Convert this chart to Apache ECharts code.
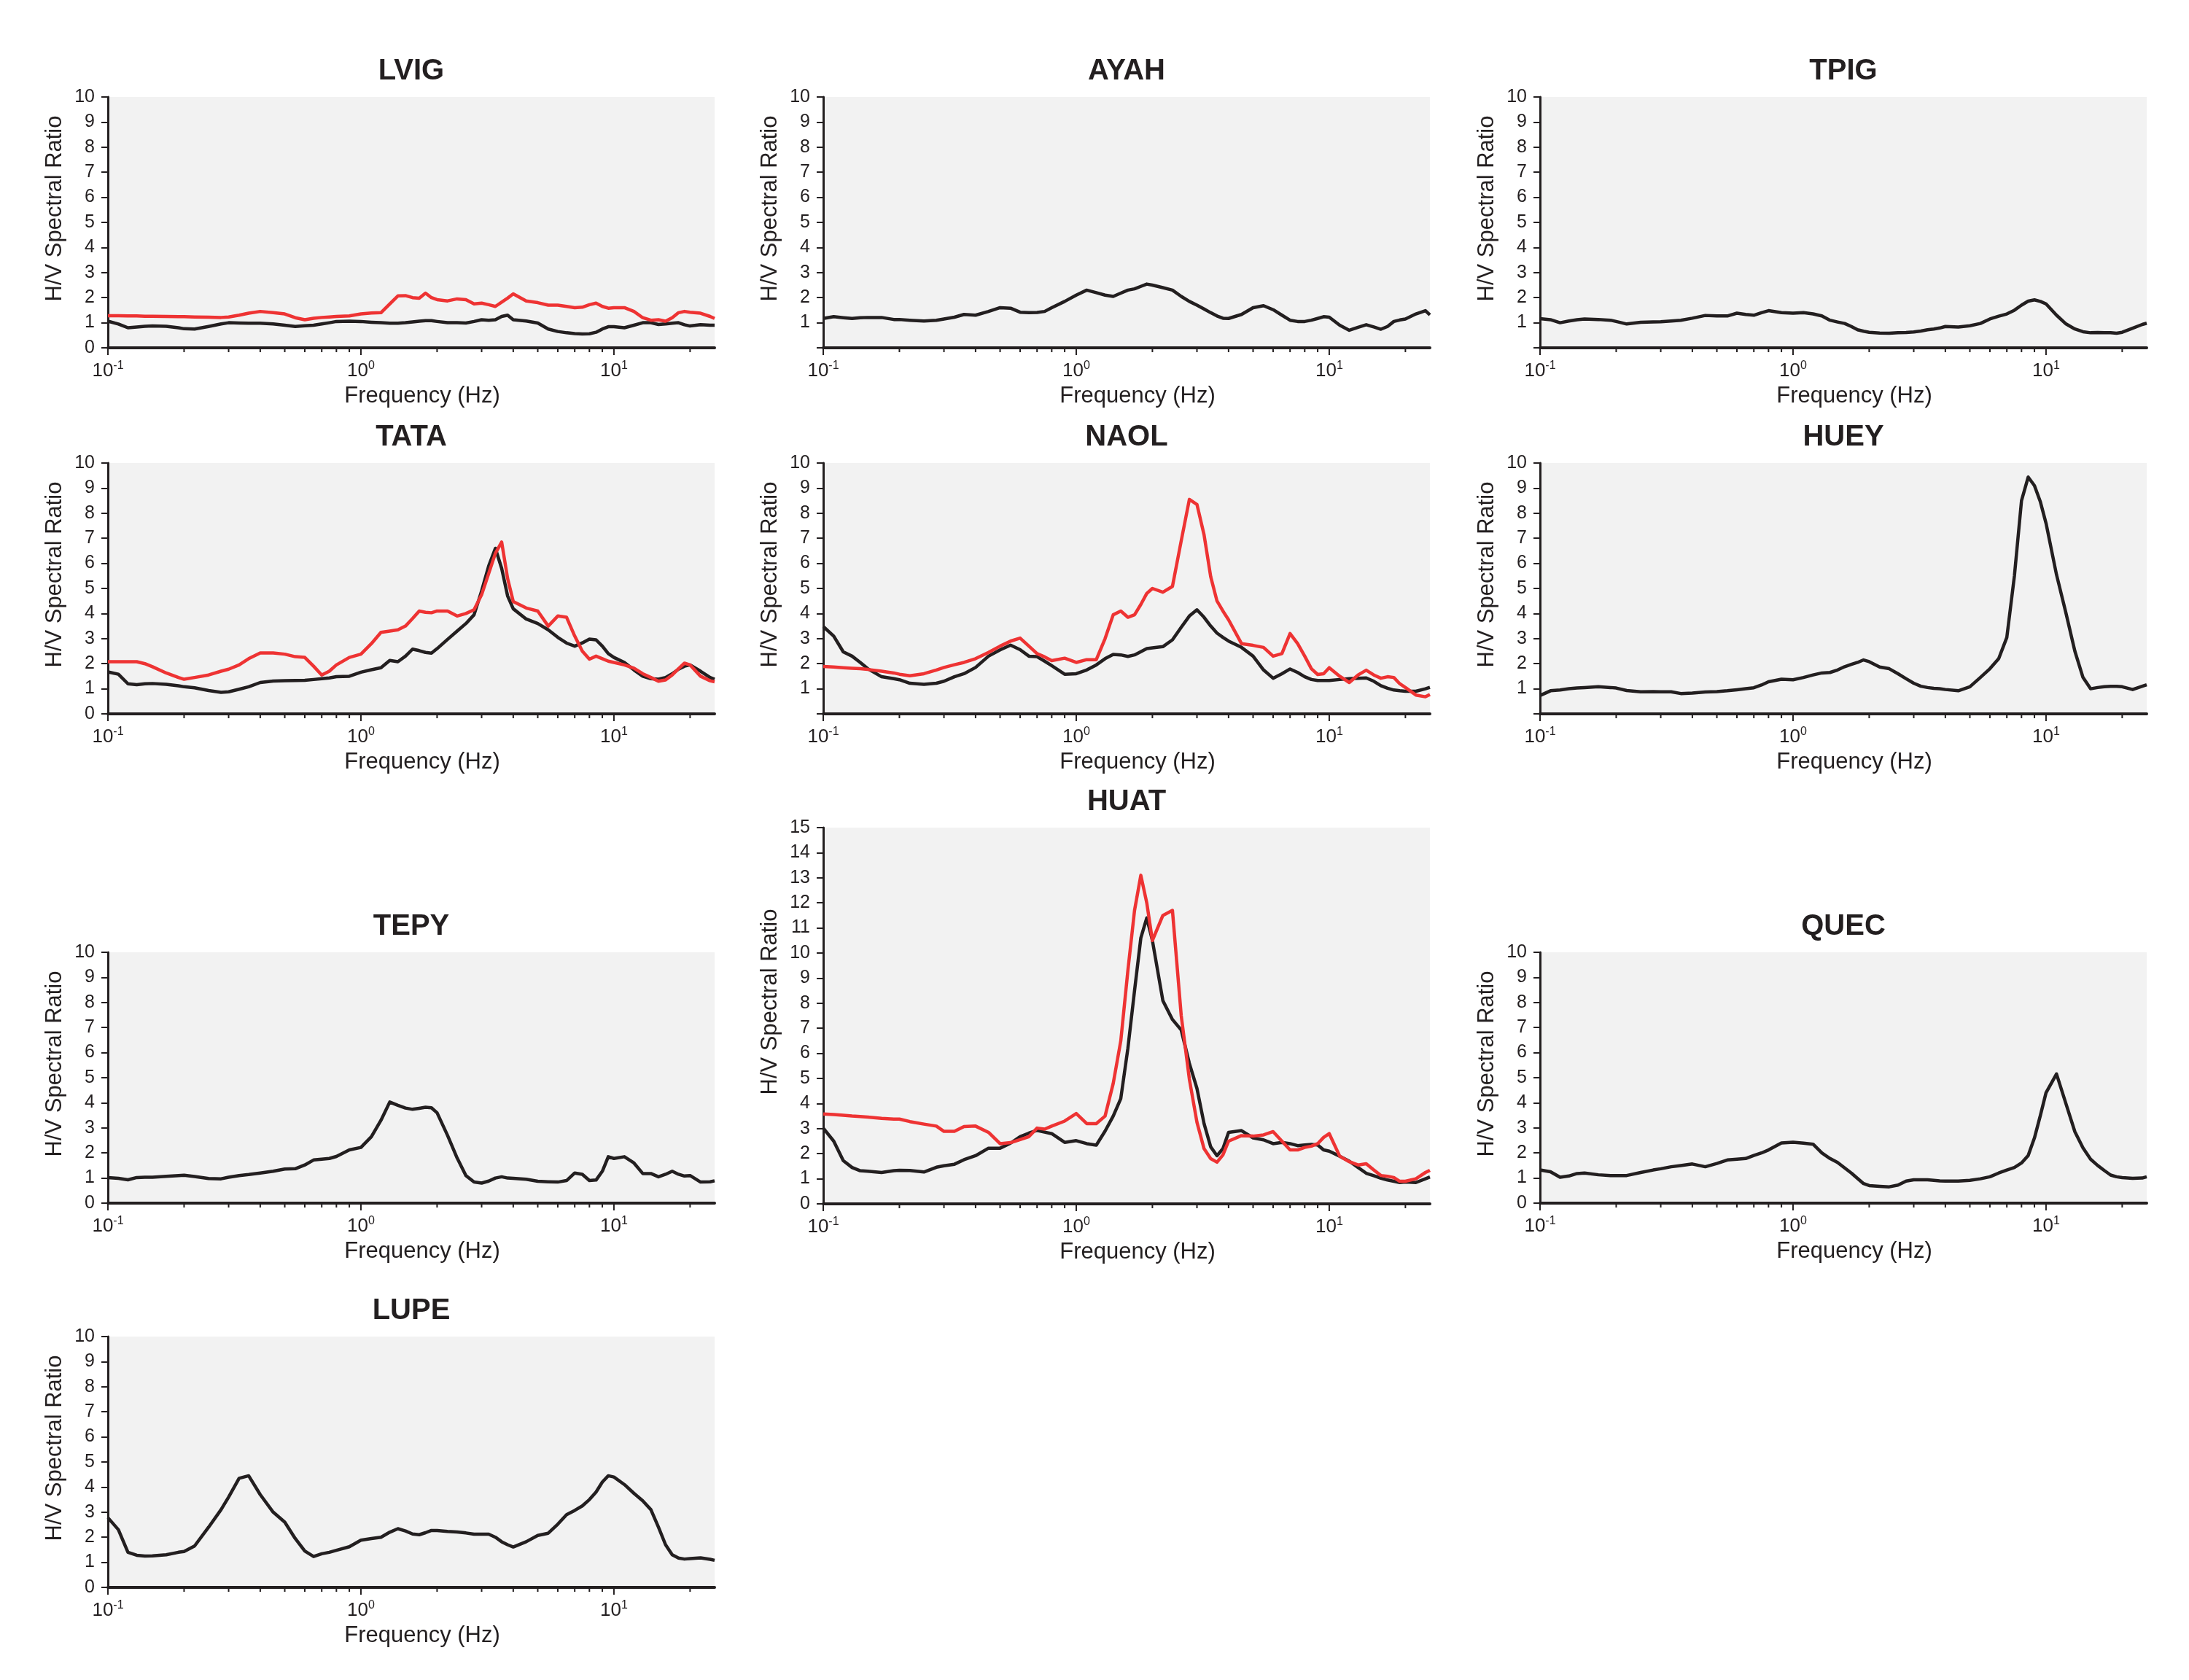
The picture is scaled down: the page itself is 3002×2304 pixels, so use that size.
<!DOCTYPE html>
<html>
<head>
<meta charset="utf-8">
<script src="https://cdn.jsdelivr.net/npm/echarts@6/dist/echarts.min.js"></script>
<style>
html,body{margin:0;padding:0;background:#ffffff;}
#chart{width:3002px;height:2304px;}
</style>
</head>
<body>
<div id="chart"></div>
<script>
// ---------- data ----------
const freqs = [0.1,0.11,0.12,0.13,0.14,0.15,0.17,0.19,0.2,0.22,0.25,0.28,0.3,0.33,0.36,0.4,0.45,0.5,0.55,0.6,0.65,0.7,0.75,0.8,0.9,
  1.0,1.1,1.2,1.3,1.4,1.5,1.6,1.7,1.8,1.9,2.0,2.2,2.4,2.6,2.8,3.0,3.2,3.4,3.6,3.8,4.0,4.5,5.0,5.5,6.0,6.5,7.0,7.5,8.0,8.5,9.0,9.5,
  10,11,12,13,14,15,16,17,18,19,20,22,24,25];

const majorTicks = [0.1, 1, 10];
const minorTicks = [0.2,0.3,0.4,0.5,0.6,0.7,0.8,0.9,2,3,4,5,6,7,8,9,20];

const LVIG_black = [1.06,0.95,0.8,0.83,0.86,0.87,0.86,0.8,0.76,0.75,0.85,0.95,1.0,0.99,0.98,0.98,0.95,0.9,0.85,0.88,0.9,0.95,1.0,1.05,1.06,
  1.05,1.02,1.0,0.98,0.98,1.0,1.03,1.06,1.08,1.08,1.05,1.0,1.0,0.99,1.05,1.12,1.1,1.12,1.25,1.3,1.12,1.07,0.99,0.75,0.65,0.6,0.57,0.55,0.56,0.62,0.75,0.84,
  0.84,0.8,0.9,1.0,1.0,0.93,0.95,0.98,1.0,0.92,0.87,0.92,0.9,0.9];
const LVIG_red = [1.28,1.28,1.27,1.27,1.26,1.26,1.25,1.24,1.24,1.23,1.22,1.21,1.23,1.3,1.38,1.45,1.4,1.35,1.2,1.12,1.18,1.21,1.23,1.25,1.27,
  1.35,1.39,1.4,1.75,2.07,2.08,2.0,1.98,2.18,2.0,1.92,1.87,1.95,1.92,1.75,1.78,1.72,1.65,1.82,1.98,2.15,1.87,1.8,1.7,1.7,1.65,1.6,1.62,1.72,1.78,1.65,1.58,
  1.6,1.6,1.45,1.2,1.1,1.12,1.06,1.2,1.4,1.45,1.42,1.38,1.25,1.17];

const AYAH_black = [1.17,1.24,1.2,1.17,1.2,1.21,1.21,1.13,1.13,1.1,1.07,1.1,1.15,1.22,1.33,1.3,1.45,1.6,1.58,1.42,1.4,1.41,1.45,1.6,1.85,
  2.1,2.3,2.2,2.1,2.05,2.18,2.3,2.35,2.45,2.54,2.5,2.4,2.3,2.05,1.85,1.7,1.55,1.4,1.27,1.18,1.17,1.33,1.6,1.68,1.52,1.3,1.1,1.05,1.05,1.1,1.17,1.24,
  1.22,0.9,0.7,0.82,0.92,0.83,0.74,0.85,1.05,1.11,1.15,1.35,1.48,1.31];

const TPIG_black = [1.16,1.12,1.0,1.07,1.12,1.15,1.13,1.1,1.05,0.95,1.02,1.03,1.04,1.07,1.1,1.18,1.29,1.27,1.27,1.38,1.33,1.3,1.4,1.48,1.4,
  1.38,1.4,1.35,1.27,1.1,1.03,0.97,0.85,0.72,0.66,0.62,0.59,0.58,0.6,0.61,0.63,0.67,0.72,0.75,0.79,0.85,0.83,0.88,0.97,1.15,1.26,1.35,1.5,1.7,1.86,1.91,1.85,
  1.75,1.3,0.95,0.75,0.64,0.6,0.61,0.6,0.6,0.58,0.62,0.78,0.93,0.98];

const TATA_black = [1.67,1.58,1.2,1.16,1.2,1.21,1.18,1.12,1.08,1.04,0.93,0.86,0.88,0.98,1.08,1.25,1.31,1.32,1.33,1.34,1.37,1.4,1.43,1.48,1.5,
  1.66,1.76,1.84,2.13,2.08,2.3,2.58,2.52,2.45,2.42,2.6,2.97,3.3,3.6,3.95,4.9,5.9,6.6,5.8,4.7,4.19,3.78,3.6,3.35,3.05,2.82,2.7,2.83,2.98,2.95,2.7,2.4,
  2.25,2.05,1.75,1.5,1.4,1.38,1.45,1.6,1.78,1.9,1.95,1.7,1.45,1.38];
const TATA_red = [2.08,2.08,2.08,2.08,2.0,1.88,1.63,1.45,1.38,1.45,1.55,1.7,1.78,1.95,2.2,2.43,2.43,2.38,2.28,2.25,1.9,1.55,1.7,1.95,2.25,
  2.38,2.8,3.25,3.3,3.35,3.5,3.8,4.1,4.05,4.03,4.1,4.1,3.9,4.0,4.15,4.75,5.6,6.4,6.85,5.4,4.48,4.22,4.1,3.5,3.9,3.85,3.1,2.5,2.18,2.3,2.2,2.1,
  2.05,1.95,1.82,1.6,1.45,1.3,1.35,1.55,1.8,2.02,1.95,1.5,1.32,1.28];

const NAOL_black = [3.48,3.1,2.47,2.3,2.05,1.8,1.48,1.4,1.36,1.22,1.18,1.22,1.3,1.48,1.6,1.85,2.3,2.55,2.74,2.56,2.3,2.28,2.1,1.92,1.58,
  1.6,1.75,1.95,2.2,2.37,2.35,2.29,2.35,2.48,2.6,2.63,2.68,2.95,3.45,3.9,4.15,3.85,3.5,3.22,3.05,2.9,2.65,2.3,1.75,1.42,1.6,1.79,1.65,1.48,1.37,1.33,1.33,
  1.33,1.37,1.4,1.42,1.43,1.3,1.12,1.02,0.95,0.92,0.9,0.9,1.0,1.06];
const NAOL_red = [1.89,1.87,1.84,1.82,1.8,1.77,1.7,1.63,1.58,1.52,1.6,1.75,1.85,1.96,2.05,2.2,2.45,2.7,2.9,3.02,2.7,2.4,2.27,2.12,2.22,
  2.05,2.16,2.16,3.0,3.95,4.1,3.85,3.95,4.36,4.8,5.0,4.85,5.08,6.9,8.55,8.35,7.14,5.47,4.5,4.1,3.75,2.8,2.73,2.65,2.3,2.4,3.2,2.8,2.3,1.8,1.57,1.6,
  1.84,1.5,1.25,1.55,1.74,1.55,1.42,1.48,1.45,1.2,1.05,0.75,0.68,0.77];

const HUEY_black = [0.73,0.92,0.95,1.0,1.03,1.05,1.08,1.05,1.03,0.93,0.88,0.89,0.88,0.88,0.81,0.83,0.87,0.89,0.92,0.96,1.0,1.04,1.15,1.28,1.38,
  1.36,1.45,1.55,1.63,1.65,1.75,1.88,1.97,2.05,2.15,2.08,1.87,1.8,1.6,1.4,1.22,1.1,1.05,1.02,1.0,0.97,0.92,1.08,1.45,1.8,2.2,3.05,5.5,8.5,9.44,9.1,8.45,
  7.6,5.55,4.0,2.5,1.45,1.0,1.05,1.08,1.1,1.1,1.08,0.97,1.1,1.16];

const TEPY_black = [1.02,0.99,0.93,1.02,1.03,1.03,1.07,1.1,1.11,1.06,0.98,0.97,1.03,1.1,1.14,1.2,1.27,1.36,1.37,1.52,1.72,1.75,1.78,1.86,2.12,
  2.22,2.65,3.3,4.03,3.9,3.79,3.74,3.78,3.82,3.8,3.6,2.7,1.8,1.1,0.84,0.8,0.88,1.0,1.05,1.0,0.99,0.95,0.87,0.85,0.84,0.9,1.2,1.15,0.9,0.92,1.27,1.85,
  1.78,1.85,1.6,1.18,1.18,1.05,1.15,1.27,1.15,1.08,1.1,0.84,0.85,0.89];

const HUAT_black = [3.02,2.5,1.72,1.45,1.32,1.3,1.25,1.32,1.34,1.33,1.27,1.46,1.52,1.58,1.76,1.92,2.22,2.22,2.42,2.68,2.82,2.93,2.86,2.8,2.45,
  2.52,2.4,2.34,2.9,3.5,4.2,6.2,8.5,10.6,11.4,10.5,8.1,7.35,6.93,5.6,4.6,3.2,2.27,1.92,2.2,2.85,2.92,2.63,2.55,2.4,2.45,2.4,2.32,2.35,2.37,2.35,2.15,
  2.1,1.9,1.7,1.45,1.22,1.12,1.02,0.95,0.9,0.85,0.87,0.85,1.0,1.07];
const HUAT_red = [3.58,3.56,3.53,3.5,3.48,3.46,3.41,3.38,3.38,3.28,3.18,3.1,2.89,2.89,3.08,3.1,2.85,2.4,2.44,2.56,2.68,3.02,2.98,3.1,3.3,
  3.6,3.2,3.2,3.5,4.8,6.5,9.3,11.7,13.1,12.0,10.5,11.5,11.7,7.5,4.97,3.25,2.2,1.8,1.66,1.95,2.5,2.72,2.7,2.75,2.88,2.5,2.15,2.15,2.25,2.3,2.4,2.65,
  2.8,1.9,1.68,1.55,1.6,1.35,1.13,1.1,1.05,0.9,0.9,1.0,1.25,1.34];

const QUEC_black = [1.32,1.25,1.03,1.08,1.18,1.2,1.13,1.1,1.1,1.1,1.22,1.32,1.37,1.45,1.5,1.56,1.45,1.58,1.72,1.75,1.78,1.9,2.0,2.12,2.4,
  2.43,2.39,2.35,2.0,1.78,1.62,1.4,1.2,0.98,0.78,0.7,0.67,0.65,0.72,0.88,0.93,0.93,0.93,0.91,0.89,0.88,0.88,0.91,0.97,1.05,1.2,1.32,1.42,1.6,1.9,2.6,3.5,
  4.4,5.15,3.95,2.85,2.2,1.75,1.5,1.3,1.12,1.05,1.02,0.99,1.0,1.05];

const LUPE_black = [2.78,2.3,1.4,1.28,1.25,1.26,1.3,1.4,1.43,1.65,2.4,3.1,3.6,4.35,4.45,3.7,3.0,2.6,1.95,1.45,1.23,1.34,1.4,1.48,1.62,
  1.88,1.95,2.0,2.2,2.34,2.25,2.13,2.1,2.18,2.27,2.27,2.23,2.21,2.17,2.12,2.12,2.12,2.0,1.82,1.7,1.61,1.82,2.07,2.16,2.52,2.9,3.07,3.25,3.5,3.8,4.2,4.45,
  4.4,4.1,3.75,3.45,3.1,2.4,1.7,1.3,1.17,1.13,1.15,1.18,1.12,1.08];

const stationNames = ['LVIG','AYAH','TPIG','TATA','NAOL','HUEY','TEPY','HUAT','QUEC','LUPE'];
const blackSeries = [LVIG_black, AYAH_black, TPIG_black, TATA_black, NAOL_black, HUEY_black, TEPY_black, HUAT_black, QUEC_black, LUPE_black];
const redSeries   = [LVIG_red, null, null, TATA_red, NAOL_red, null, null, HUAT_red, null, null];
const yMaxes      = [10,10,10,10,10,10,10,15,10,10];
const showZeroLabel = [true,false,false,true,false,false,true,true,true,true];

// ---------- layout / style ----------
const INK = '#231f20';
const RED = '#ee3333';
const FONT = '"Liberation Sans", Arial, Helvetica, sans-serif';
const PLOT_W = 832;
const UNIT_H = 34.4;
const origins = [[148,133],[1129,133],[2112,133],[148,635],[1129,635],[2112,635],[148,1306],[1129,1135],[2112,1306],[148,1833]];

const grids = [], xAxes = [], yAxes = [], series = [], titles = [];

function tickSeries(i, ticks, len) {
  return {
    type: 'custom', coordinateSystem: 'cartesian2d', xAxisIndex: i, yAxisIndex: i,
    clip: false, silent: true, z: 4, animation: false,
    data: ticks.map(f => [f, 0]),
    renderItem: function (params, api) {
      const p = api.coord([api.value(0), 0]);
      return { type: 'line', shape: { x1: p[0], y1: p[1], x2: p[0], y2: p[1] + len },
               style: { stroke: INK, lineWidth: 2 } };
    }
  };
}

stationNames.forEach((name, i) => {
  const [left, top] = origins[i];
  const h = yMaxes[i] * UNIT_H;
  grids.push({ left: left, top: top, width: PLOT_W, height: h, show: true,
               backgroundColor: '#f2f2f2', borderWidth: 0, containLabel: false });
  titles.push({ text: name, left: left + PLOT_W / 2, top: top - 35, textAlign: 'center',
                textVerticalAlign: 'middle', padding: 0,
                textStyle: { fontSize: 40, fontWeight: 'bold', color: INK, fontFamily: FONT } });
  xAxes.push({
    type: 'log', logBase: 10, gridIndex: i, min: 0.1, max: 25,
    axisLine: { show: true, onZero: false, lineStyle: { color: INK, width: 4 } },
    axisTick: { show: false }, splitLine: { show: false }, minorSplitLine: { show: false },
    axisLabel: {
      show: true, margin: 17, showMaxLabel: false,
      formatter: function (v) {
        const e = Math.round(Math.log10(v));
        return '{b|10}{s|' + e + '}';
      },
      rich: {
        b: { fontSize: 26, lineHeight: 30, color: INK, fontFamily: FONT },
        s: { fontSize: 16, lineHeight: 16, color: INK, fontFamily: FONT, verticalAlign: 'top' }
      }
    },
    name: 'Frequency (Hz)', nameLocation: 'middle', nameGap: 51,
    nameTextStyle: { fontSize: 31, color: INK, fontFamily: FONT, padding: [0, 0, 0, 30] }
  });
  yAxes.push({
    type: 'value', gridIndex: i, min: 0, max: yMaxes[i], interval: 1,
    axisLine: { show: true, onZero: false, lineStyle: { color: INK, width: 3 } },
    axisTick: { show: true, length: 9, lineStyle: { color: INK, width: 2 } },
    splitLine: { show: false },
    axisLabel: {
      margin: 18, fontSize: 25, color: INK, fontFamily: FONT,
      formatter: (v) => (v === 0 && !showZeroLabel[i]) ? '' : String(v)
    },
    name: 'H/V Spectral Ratio', nameLocation: 'middle', nameGap: 57,
    nameTextStyle: { fontSize: 31, color: INK, fontFamily: FONT, padding: [0, 0, 0, 38] }
  });
  series.push({
    type: 'line', name: name + ' black', xAxisIndex: i, yAxisIndex: i,
    data: freqs.map((f, k) => [f, blackSeries[i][k]]),
    showSymbol: false, symbol: 'none', z: 2, animation: false,
    lineStyle: { color: INK, width: 4.5, join: 'round' }, itemStyle: { color: INK }
  });
  if (redSeries[i]) {
    series.push({
      type: 'line', name: name + ' red', xAxisIndex: i, yAxisIndex: i,
      data: freqs.map((f, k) => [f, redSeries[i][k]]),
      showSymbol: false, symbol: 'none', z: 3, animation: false,
      lineStyle: { color: RED, width: 4.5, join: 'round' }, itemStyle: { color: RED }
    });
  }
  series.push(tickSeries(i, majorTicks, 10));
  series.push(tickSeries(i, minorTicks, 6));
});

const chart = echarts.init(document.getElementById('chart'), null, { renderer: 'canvas' });
chart.setOption({
  backgroundColor: '#ffffff',
  animation: false,
  title: titles,
  grid: grids,
  xAxis: xAxes,
  yAxis: yAxes,
  series: series
});
</script>
</body>
</html>
